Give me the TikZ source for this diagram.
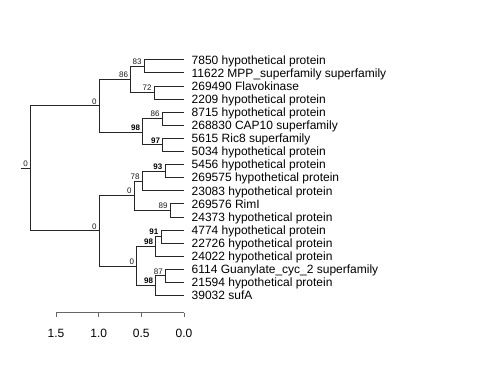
\documentclass[tikz,border=0pt]{standalone}
\usepackage{fontspec}
\setmainfont{Liberation Sans}
\usetikzlibrary{positioning}

\begin{document}
\begin{tikzpicture}[x=1pt,y=-1pt,
        edge/.style={line width=0.8pt,draw=black!85},
        leaf/.style={anchor=west,inner sep=0pt,font=\fontsize{12}{14}\selectfont,
          text height=8.6pt,text depth=0pt},
        nlab/.style={anchor=south east,inner sep=0pt,font=\fontsize{8}{9}\selectfont,
          text=black!90,xshift=-2.5pt,yshift=1.5pt},
        blab/.style={nlab,text=black,font=\fontsize{8}{9}\selectfont\bfseries},
        tick/.style={anchor=north,inner sep=0pt,font=\fontsize{12}{14}\selectfont}]
  \useasboundingbox (0,0) rectangle (480,384);
  % leaves
  \foreach \lab [count=\i] in {7850 hypothetical protein,
      11622 MPP\_superfamily superfamily,269490 Flavokinase,2209 hypothetical protein,
      8715 hypothetical protein,268830 CAP10 superfamily,5615 Ric8 superfamily,
      5034 hypothetical protein,5456 hypothetical protein,269575 hypothetical protein,
      23083 hypothetical protein,269576 RimI,24373 hypothetical protein,
      4774 hypothetical protein,22726 hypothetical protein,24022 hypothetical protein,
      6114 Guanylate\_cyc\_2 superfamily,21594 hypothetical protein,39032 sufA}{
    \coordinate (t\i) at (184,{46.6+13.1*\i});
    \node[leaf,right=7.5pt of t\i] (l\i) {\lab};
  }
  % inner nodes
  \coordinate (r) at (30.5,168.3);
  \coordinate (s) at (20.5,168.3);
  \coordinate (A) at (99.3,105.8);
  \coordinate (B) at (130.7,79.6);
  \coordinate (C) at (144.3,66.25);
  \coordinate (D) at (154.3,92.45);
  \coordinate (E) at (142.7,132.0);
  \coordinate (F) at (162.3,118.65);
  \coordinate (G) at (162.7,144.85);
  \coordinate (H) at (99.3,230.8);
  \coordinate (I) at (134.3,195.6);
  \coordinate (J) at (142.3,180.9);
  \coordinate (L) at (165.0,171.05);
  \coordinate (K) at (170.3,210.35);
  \coordinate (M) at (136.7,266.0);
  \coordinate (N) at (155.7,246.4);
  \coordinate (P) at (161.0,236.55);
  \coordinate (O) at (155.7,285.7);
  \coordinate (Q) at (165.5,275.85);
  % branches
  \draw[edge] (s) -- (r);
  \draw[edge] (r) |- (A);  \draw[edge] (r) |- (H);
  \draw[edge] (A) |- (B);  \draw[edge] (A) |- (E);
  \draw[edge] (B) |- (C);  \draw[edge] (B) |- (D);
  \draw[edge] (C) |- (t1); \draw[edge] (C) |- (t2);
  \draw[edge] (D) |- (t3); \draw[edge] (D) |- (t4);
  \draw[edge] (E) |- (F);  \draw[edge] (E) |- (G);
  \draw[edge] (F) |- (t5); \draw[edge] (F) |- (t6);
  \draw[edge] (G) |- (t7); \draw[edge] (G) |- (t8);
  \draw[edge] (H) |- (I);  \draw[edge] (H) |- (M);
  \draw[edge] (I) |- (J);  \draw[edge] (I) |- (K);
  \draw[edge] (J) |- (L);  \draw[edge] (J) |- (t11);
  \draw[edge] (L) |- (t9); \draw[edge] (L) |- (t10);
  \draw[edge] (K) |- (t12); \draw[edge] (K) |- (t13);
  \draw[edge] (M) |- (N);  \draw[edge] (M) |- (O);
  \draw[edge] (N) |- (P);  \draw[edge] (N) |- (t16);
  \draw[edge] (P) |- (t14); \draw[edge] (P) |- (t15);
  \draw[edge] (O) |- (Q);  \draw[edge] (O) |- (t19);
  \draw[edge] (Q) |- (t17); \draw[edge] (Q) |- (t18);
  % support values
  \node[nlab] (lr) at (r) {0};
  \node[nlab] (lA) at (A) {0};
  \node[nlab] (lB) at (B) {86};
  \node[nlab] (lC) at (C) {83};
  \node[nlab] (lD) at (D) {72};
  \node[blab] (lE) at (E) {98};
  \node[nlab] (lF) at (F) {86};
  \node[blab] (lG) at (G) {97};
  \node[nlab] (lH) at (H) {0};
  \node[nlab] (lI) at (I) {0};
  \node[nlab] (lJ) at (J) {78};
  \node[blab] (lL) at (L) {93};
  \node[nlab] (lK) at (K) {89};
  \node[nlab] (lM) at (M) {0};
  \node[blab] (lN) at (N) {98};
  \node[blab] (lP) at (P) {91};
  \node[blab] (lO) at (O) {98};
  \node[nlab] (lQ) at (Q) {87};
  % scale axis
  \coordinate (a15) at (56,312.7);
  \coordinate (a10) at (98.7,312.7);
  \coordinate (a05) at (141.3,312.7);
  \coordinate (a00) at (184,312.7);
  \draw[edge,draw=black!60] (a15) -- (a00);
  \foreach \p/\v in {a15/1.5,a10/1.0,a05/0.5,a00/0.0}{
    \draw[edge,draw=black!60] (\p) -- ++(0,4.5) coordinate (k\p);
    \node[tick,below=11.5pt of k\p] (n\p) {\v};
  }
\end{tikzpicture}
\end{document}
